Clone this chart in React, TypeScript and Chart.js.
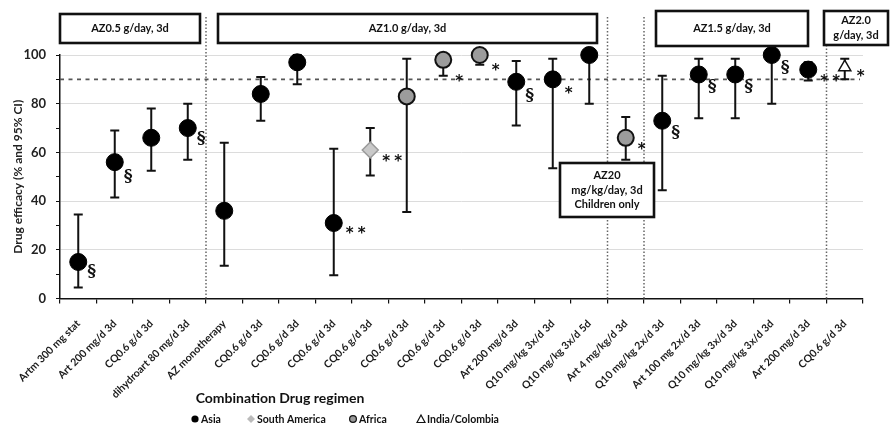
import React, { useEffect, useRef } from "react";
import { Chart, registerables } from "chart.js";

Chart.register(...registerables);

const categories = [
  "Artm 300 mg stat",
  "Art 200 mg/d 3d",
  "CQ0.6 g/d 3d",
  "dihydroart 80 mg/d 3d",
  "AZ monotherapy",
  "CQ0.6 g/d 3d",
  "CQ0.6 g/d 3d",
  "CQ0.6 g/d 3d",
  "CQ0.6 g/d 3d",
  "CQ0.6 g/d 3d",
  "CQ0.6 g/d 3d",
  "CQ0.6 g/d 3d",
  "Art 200 mg/d 3d",
  "Q10 mg/kg 3x/d 3d",
  "Q10 mg/kg 3x/d 5d",
  "Art 4 mg/kg/d 3d",
  "Q10 mg/kg 2x/d 3d",
  "Art 100 mg 2x/d 3d",
  "Q10 mg/kg 3x/d 3d",
  "Q10 mg/kg 3x/d 3d",
  "Art 200 mg/d 3d",
  "CQ0.6 g/d 3d",
];

const efficacy = [15, 56, 66, 70, 36, 84, 97, 31, 61, 83, 98, 100, 89, 90, 100, 66, 73, 92, 92, 100, 94, 95];
const ciLow = [4.5, 41.5, 52.5, 57, 13.5, 73, 88, 9.5, 50.5, 35.5, 91.5, 96, 71, 53.5, 80, 57, 44.5, 74, 74, 80, 89.5, 90];
const ciHigh = [34.5, 69, 78, 80, 64, 91, 100, 61.5, 70, 98.5, 100, 100, 97.5, 98.5, 100, 74.5, 91.5, 98.5, 98.5, 100, 97, 98.5];
const regions = [
  "Asia", "Asia", "Asia", "Asia", "Asia", "Asia", "Asia", "Asia",
  "South America", "Africa", "Africa", "Africa",
  "Asia", "Asia", "Asia", "Africa", "Asia", "Asia", "Asia", "Asia", "Asia",
  "India/Colombia",
];
const notes = ["§", "§", "", "§", "", "", "", "**", "**", "", "*", "*", "§", "*", "", "*", "§", "§", "§", "§", "**", "*"];
const noteLevels = [11, 50, 0, 65.5, 0, 0, 0, 28.5, 58, 0, 91, 95.5, 83.5, 86, 0, 63, 68, 87, 87, 95, 91, 93];

const regionNames = ["Asia", "South America", "Africa", "India/Colombia"];
const yTicks = [0, 20, 40, 60, 80, 100];
const referenceLevel = 90;
const separatorBoundaries = [4, 15, 16, 21];

const FONT = "Lato, 'Open Sans', sans-serif";

const regionStyle: Record<string, any> = {
  Asia: { pointStyle: "circle", radius: 8.5, bg: "#000", border: "#000", bw: 1 },
  "South America": { pointStyle: "rectRot", radius: 8, bg: "#c9c9c9", border: "#9a9a9a", bw: 1.5 },
  Africa: { pointStyle: "circle", radius: 8, bg: "#9c9c9c", border: "#111", bw: 2 },
  "India/Colombia": { pointStyle: "triangle", radius: 7, bg: "#fff", border: "#111", bw: 1.5 },
};

const boxes = [
  { x: 60, y: 14, w: 140, h: 29, lines: ["AZ0.5 g/day, 3d"] },
  { x: 218, y: 14, w: 379, h: 29, lines: ["AZ1.0 g/day, 3d"] },
  { x: 656, y: 11, w: 152, h: 35, lines: ["AZ1.5 g/day, 3d"] },
  { x: 824, y: 11, w: 64, h: 34, lines: ["AZ2.0", "g/day, 3d"] },
  { x: 560, y: 163, w: 94, h: 54, lines: ["AZ20", "mg/kg/day, 3d", "Children only"] },
];

const overlay = {
  id: "overlay",
  beforeDatasetsDraw(chart: any) {
    const { ctx, chartArea, scales } = chart;
    const xs = scales.x;
    const ys = scales.y;
    ctx.save();
    const ry = ys.getPixelForValue(referenceLevel);
    ctx.strokeStyle = "#555";
    ctx.lineWidth = 1.6;
    ctx.setLineDash([4, 4.5]);
    ctx.beginPath();
    ctx.moveTo(chartArea.left, ry);
    ctx.lineTo(chartArea.right - 3, ry);
    ctx.stroke();
    ctx.strokeStyle = "#666";
    ctx.lineWidth = 1.5;
    ctx.setLineDash([1.5, 2]);
    const step = (chartArea.right - chartArea.left) / categories.length;
    separatorBoundaries.forEach((b) => {
      const px = chartArea.left + b * step;
      ctx.beginPath();
      ctx.moveTo(px, 17);
      ctx.lineTo(px, chartArea.bottom);
      ctx.stroke();
    });
    ctx.setLineDash([]);
    ctx.strokeStyle = "#111";
    ctx.lineWidth = 2;
    for (let i = 0; i < categories.length; i++) {
      const px = xs.getPixelForValue(i);
      const t = ys.getPixelForValue(ciHigh[i]);
      const b = ys.getPixelForValue(ciLow[i]);
      ctx.beginPath();
      ctx.moveTo(px, t);
      ctx.lineTo(px, b);
      ctx.moveTo(px - 4.5, t);
      ctx.lineTo(px + 4.5, t);
      ctx.moveTo(px - 4.5, b);
      ctx.lineTo(px + 4.5, b);
      ctx.stroke();
    }
    ctx.restore();
  },
  afterDatasetsDraw(chart: any) {
    const { ctx, scales } = chart;
    const xs = scales.x;
    const ys = scales.y;
    ctx.save();
    ctx.fillStyle = "#111";
    ctx.textBaseline = "middle";
    ctx.textAlign = "left";
    for (let i = 0; i < categories.length; i++) {
      const n = notes[i];
      if (!n) continue;
      const px = xs.getPixelForValue(i);
      const py = ys.getPixelForValue(noteLevels[i]);
      if (n === "§") {
        ctx.font = `bold 17px 'DejaVu Serif', serif`;
        ctx.fillText(n, px + 9, py);
      } else {
        ctx.font = `bold 15px 'DejaVu Sans', sans-serif`;
        ctx.fillText("*", px + 12, py + 5);
        if (n.length > 1) ctx.fillText("*", px + 24, py + 5);
      }
    }
    boxes.forEach((bx) => {
      ctx.fillStyle = "#fff";
      ctx.fillRect(bx.x, bx.y, bx.w, bx.h);
      ctx.strokeStyle = "#111";
      ctx.lineWidth = 2.6;
      ctx.strokeRect(bx.x, bx.y, bx.w, bx.h);
      ctx.fillStyle = "#111";
      ctx.font = `bold 11px ${FONT}`;
      ctx.textAlign = "center";
      ctx.textBaseline = "middle";
      const lh = 14.5;
      const cy = bx.y + bx.h / 2 - ((bx.lines.length - 1) * lh) / 2;
      bx.lines.forEach((l, k) => ctx.fillText(l, bx.x + bx.w / 2, cy + k * lh));
    });
    ctx.fillStyle = "#111";
    ctx.font = `bold 14px ${FONT}`;
    ctx.textAlign = "center";
    ctx.textBaseline = "middle";
    ctx.fillText("Combination Drug regimen", 280, 398);
    const lx = [195, 251, 353, 421];
    const ly = 419;
    ctx.font = `bold 10.5px ${FONT}`;
    ctx.textAlign = "left";
    regionNames.forEach((r, k) => {
      const cx = lx[k];
      ctx.lineWidth = 1.2;
      if (r === "Asia") {
        ctx.fillStyle = "#000";
        ctx.beginPath();
        ctx.arc(cx, ly, 3.6, 0, Math.PI * 2);
        ctx.fill();
      } else if (r === "South America") {
        ctx.fillStyle = "#bbb";
        ctx.beginPath();
        ctx.moveTo(cx, ly - 4);
        ctx.lineTo(cx + 4, ly);
        ctx.lineTo(cx, ly + 4);
        ctx.lineTo(cx - 4, ly);
        ctx.closePath();
        ctx.fill();
      } else if (r === "Africa") {
        ctx.fillStyle = "#999";
        ctx.strokeStyle = "#111";
        ctx.beginPath();
        ctx.arc(cx, ly, 3.4, 0, Math.PI * 2);
        ctx.fill();
        ctx.stroke();
      } else {
        ctx.fillStyle = "#fff";
        ctx.strokeStyle = "#111";
        ctx.beginPath();
        ctx.moveTo(cx, ly - 4);
        ctx.lineTo(cx + 4, ly + 3.5);
        ctx.lineTo(cx - 4, ly + 3.5);
        ctx.closePath();
        ctx.fill();
        ctx.stroke();
      }
      ctx.fillStyle = "#111";
      ctx.fillText(r, cx + 6, ly + 0.5);
    });
    ctx.restore();
  },
};

export default function App() {
  const ref = useRef<HTMLCanvasElement | null>(null);
  useEffect(() => {
    if (!ref.current) return;
    const datasets = regionNames.map((r) => {
      const s = regionStyle[r];
      return {
        label: r,
        data: efficacy.map((v, i) => (regions[i] === r ? v : null)),
        pointStyle: s.pointStyle,
        pointRadius: s.radius,
        pointHoverRadius: s.radius,
        pointBackgroundColor: s.bg,
        pointBorderColor: s.border,
        pointBorderWidth: s.bw,
        showLine: false,
        clip: false as any,
      };
    });
    const chart = new Chart(ref.current, {
      type: "line",
      data: { labels: categories, datasets },
      options: {
        animation: false,
        responsive: false,
        devicePixelRatio: 1,
        layout: { padding: { top: 55, right: 27, left: 0, bottom: 0 } },
        plugins: { legend: { display: false }, tooltip: { enabled: false } },
        scales: {
          x: {
            type: "category",
            offset: true,
            afterFit: (s: any) => {
              s.height = 127.5;
            },
            grid: { offset: true, drawOnChartArea: false, tickLength: 5, tickColor: "#111", lineWidth: 1.2 },
            border: { display: true, color: "#111", width: 1.5 },
            ticks: {
              autoSkip: false,
              maxRotation: 45,
              minRotation: 45,
              padding: 14,
              color: "#1a1a1a",
              font: { family: FONT, size: 10.5, weight: "bold" },
            },
          },
          y: {
            min: 0,
            max: 100,
            afterFit: (s: any) => {
              s.width = 60;
            },
            afterBuildTicks: (s: any) => {
              const t = [];
              for (let v = 0; v <= 100; v += 10) t.push({ value: v });
              s.ticks = t;
            },
            grid: {
              color: (c: any) => (yTicks.includes(c.tick?.value) && c.tick.value !== 0 ? "#dcdcdc" : "rgba(0,0,0,0)"),
              tickColor: "#111",
              tickLength: 4,
              lineWidth: 1,
            },
            border: { display: true, color: "#111", width: 1.5 },
            ticks: {
              padding: 10,
              color: "#222",
              font: { family: FONT, size: 13, weight: "bold" },
              callback: (v: any) => (yTicks.includes(Number(v)) ? String(v) : ""),
            },
            title: {
              display: true,
              text: "Drug efficacy (% and 95% CI)",
              color: "#222",
              font: { family: FONT, size: 12, weight: "bold" },
              padding: { top: 11, bottom: 0 },
            },
          },
        },
      },
      plugins: [overlay],
    });
    return () => chart.destroy();
  }, []);
  return (
    <div style={{ position: "absolute", left: 0, top: 0, width: 890, height: 426, background: "#fff" }}>
      <canvas ref={ref} width={890} height={426} style={{ display: "block" }} />
    </div>
  );
}
